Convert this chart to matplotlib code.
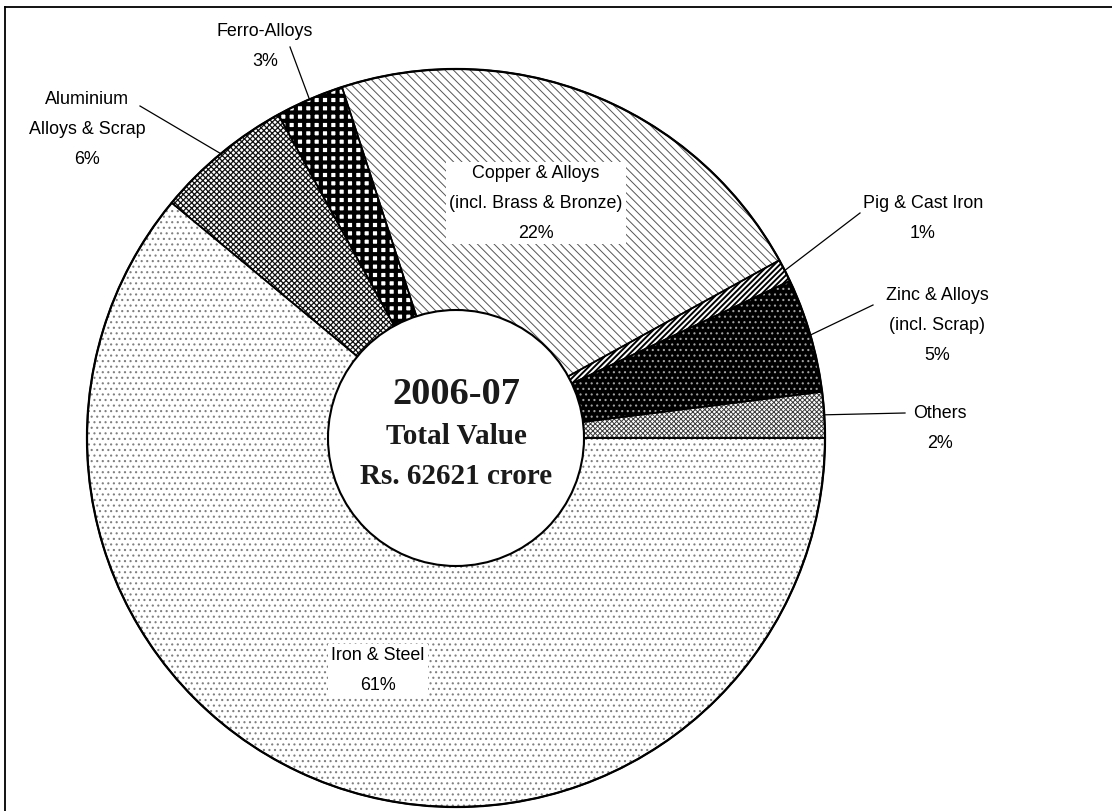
import matplotlib
matplotlib.use('Agg')
import matplotlib.pyplot as plt
import numpy as np

W, H = 1112, 811

# Datos del gráfico (porcentaje del valor total, 2006-07)
categorias = ['Iron & Steel', 'Aluminium\nAlloys & Scrap', 'Ferro-Alloys',
              'Copper & Alloys\n(incl. Brass & Bronze)', 'Pig & Cast Iron',
              'Zinc & Alloys\n(incl. Scrap)', 'Others']
porcentajes = [61, 6, 3, 22, 1, 5, 2]
titulo_centro = ['2006-07', 'Total Value', 'Rs. 62621 crore']

# Estilo de cada sector: (relleno, color de trama, trama, grosor de trama)
estilos = [
    ('white', '#808080', '...', 0.8),
    ('white', '#111111', 'xxxxxx', 0.9),
    ('white', 'black', '++', 3.0),
    ('white', '#555555', '\\\\\\\\', 0.7),
    ('white', 'black', '//////', 1.4),
    ('black', '#a0a0a0', '...', 0.8),
    ('white', '#3a3a3a', 'xxxxxxx', 0.7),
]

# Geometría en píxeles (y desde arriba)
cx, cy, R, r_in = 456, 438, 369, 128
# posición de cada etiqueta (centro) y punto donde arranca la línea guía
etiquetas = [
    (378, 670, None),
    (87, 129, (140, 106)),
    (265, 46, (290, 47)),
    (536, 203, None),
    (923, 219, (860, 213)),
    (937, 326, (873, 305)),
    (940, 429, (905, 413)),
]


def Y(y):
    return H - y


def main():
    fig = plt.figure(figsize=(W / 100, H / 100), dpi=100)
    ax = fig.add_axes([0, 0, 1, 1])

    wedges, _ = ax.pie(porcentajes, startangle=0, counterclock=False,
                       center=(cx, Y(cy)), radius=R,
                       wedgeprops=dict(linewidth=0))
    for w, (fc, hc, hatch, hlw) in zip(wedges, estilos):
        w.set_facecolor(fc)
        w.set_edgecolor(hc)
        w.set_hatch(hatch)
        if hasattr(w, 'set_hatch_linewidth'):
            w.set_hatch_linewidth(hlw)

    # Contornos
    ax.pie(porcentajes, startangle=0, counterclock=False,
           center=(cx, Y(cy)), radius=R,
           wedgeprops=dict(fill=False, edgecolor='black', linewidth=1.2))
    ax.add_patch(plt.Circle((cx, Y(cy)), R, fill=False, edgecolor='black',
                            linewidth=1.6, zorder=3))
    ax.add_patch(plt.Circle((cx, Y(cy)), r_in, facecolor='white',
                            edgecolor='black', linewidth=1.5, zorder=4))

    # Etiquetas
    for w, cat, pct, (tx, ty, anc) in zip(wedges, categorias, porcentajes,
                                          etiquetas):
        texto = f'{cat}\n{pct}%'
        caja = None
        if anc is None:
            caja = dict(facecolor='white', edgecolor='none', pad=2)
        ax.text(tx, Y(ty), texto, ha='center', va='center', fontsize=12.9,
                family='Liberation Sans', linespacing=2.0, bbox=caja,
                zorder=5)
        if anc is not None:
            ang = np.deg2rad((w.theta1 + w.theta2) / 2)
            px = cx + R * np.cos(ang)
            py = Y(cy) + R * np.sin(ang)
            ax.plot([anc[0], px], [Y(anc[1]), py], color='black', lw=0.9,
                    zorder=5)

    # Texto central
    for txt, yy, fs in zip(titulo_centro, [394, 436, 476], [27.6, 21, 21]):
        ax.text(cx, Y(yy), txt, ha='center', va='center', fontsize=fs,
                family='Liberation Serif', fontweight='bold',
                color='#1a1a1a', zorder=6)

    # Marco
    ax.plot([5, W], [Y(7), Y(7)], color='black', lw=1.3, zorder=6)
    ax.plot([5, 5], [Y(7), 0], color='black', lw=1.3, zorder=6)

    ax.set_xlim(0, W)
    ax.set_ylim(0, H)
    ax.set_aspect('equal')
    ax.axis('off')

    fig.savefig('out.png', dpi=100, facecolor='white')
    plt.close(fig)


if __name__ == "__main__":
    main()
